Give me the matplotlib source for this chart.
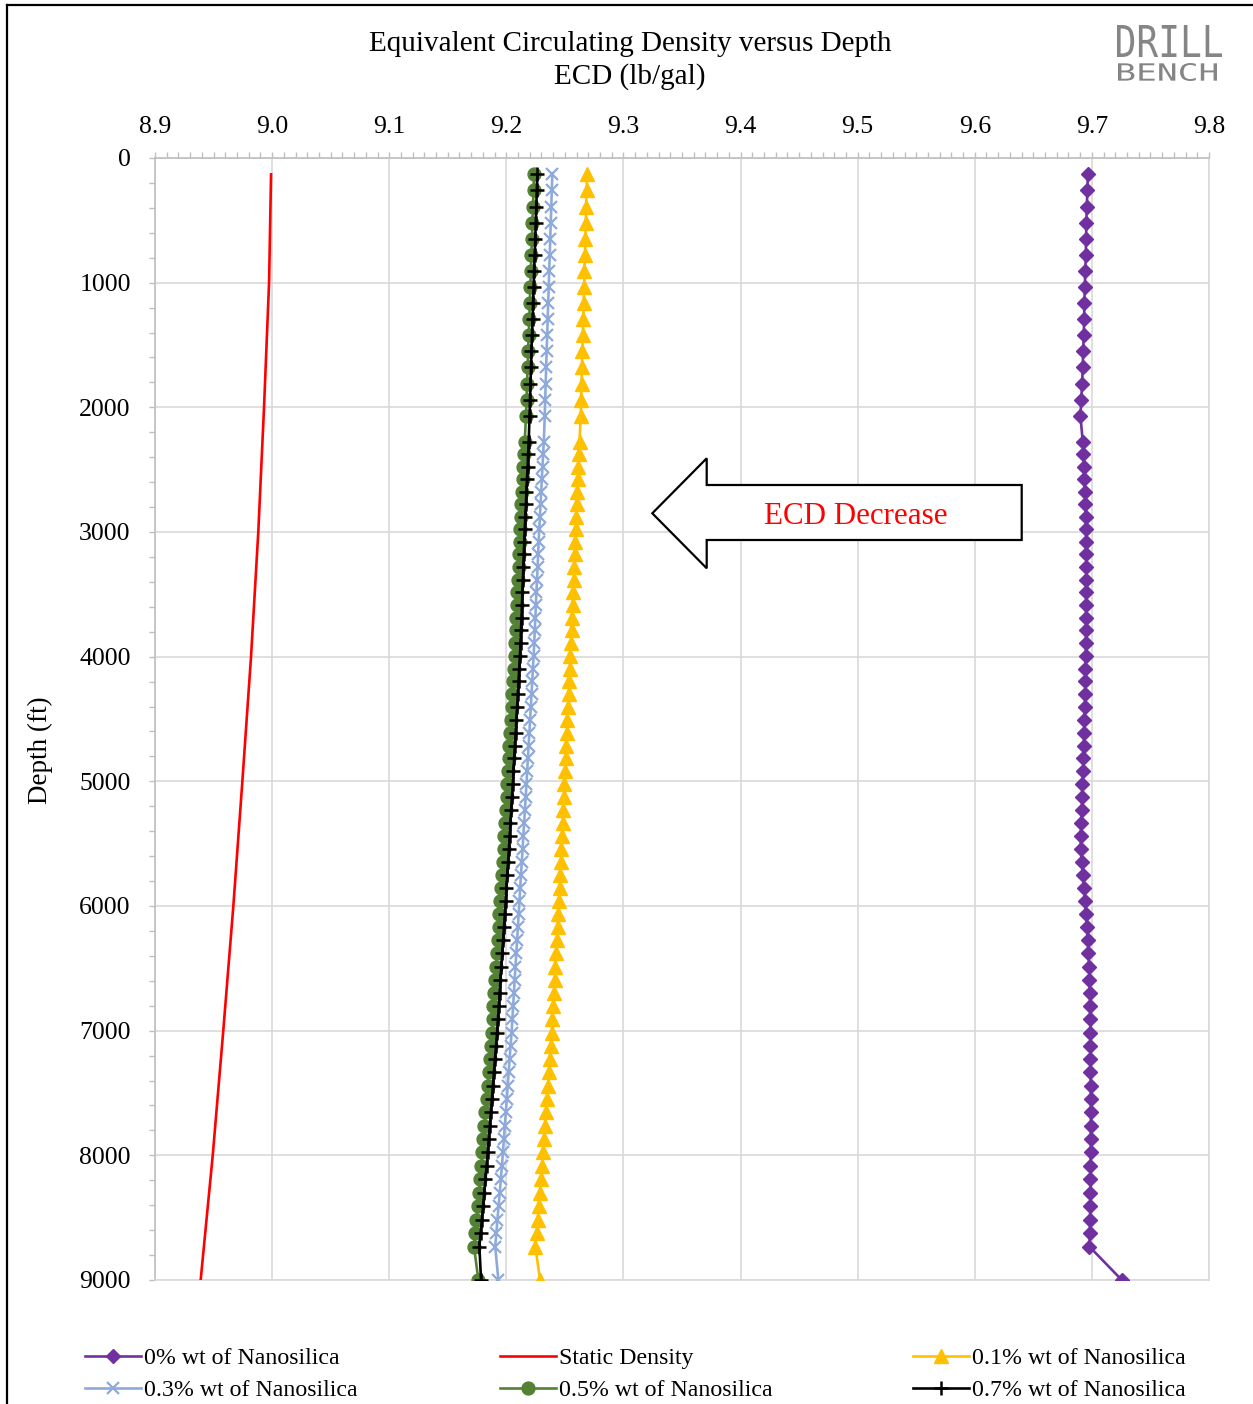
import numpy as np
import matplotlib
matplotlib.use('Agg')
import matplotlib.pyplot as plt
from matplotlib.ticker import MultipleLocator, FormatStrFormatter
from matplotlib.patches import Polygon, PathPatch
from matplotlib.textpath import TextPath
from matplotlib.font_manager import FontProperties
from matplotlib.path import Path

# ---------------- data ----------------
depth_ft = [131, 260, 390, 519, 648, 777, 906, 1035, 1164, 1293,
            1422, 1551, 1680, 1809, 1938, 2067,
            2275, 2375, 2475, 2575, 2676, 2776, 2877, 2978, 3079, 3180,
            3281, 3382, 3484, 3586, 3687, 3789, 3891, 3994, 4096, 4198,
            4301, 4404, 4506, 4609, 4713, 4816, 4919, 5023, 5126, 5230,
            5334, 5438, 5542, 5647, 5751, 5856, 5961, 6066, 6171, 6276,
            6381, 6487, 6592, 6698, 6804, 6910, 7016, 7122, 7228, 7335,
            7441, 7548, 7655, 7762, 7869, 7977, 8084, 8192, 8299, 8407,
            8515, 8623, 8732,
            9000]

ecd_0pct = [9.6965, 9.6962, 9.6956, 9.6953, 9.6950, 9.6948, 9.6944, 9.6939, 9.6936, 9.6933,
            9.6931, 9.6925, 9.6922, 9.6916, 9.6910, 9.6902,
            9.6922, 9.6928, 9.6933, 9.6936, 9.6939, 9.6945, 9.6948, 9.6950, 9.6950, 9.6953,
            9.6953, 9.6950, 9.6950, 9.6950, 9.6950, 9.6950, 9.6948, 9.6948, 9.6945, 9.6945,
            9.6942, 9.6939, 9.6936, 9.6933, 9.6931, 9.6928, 9.6925, 9.6919, 9.6916, 9.6914,
            9.6908, 9.6905, 9.6905, 9.6912, 9.6922, 9.6932, 9.6942, 9.6950, 9.6958, 9.6965,
            9.6971, 9.6976, 9.6979, 9.6982, 9.6985, 9.6985, 9.6988, 9.6988, 9.6988, 9.6988,
            9.6991, 9.6991, 9.6991, 9.6991, 9.6991, 9.6991, 9.6988, 9.6988, 9.6988, 9.6985,
            9.6985, 9.6982, 9.6979,
            9.7255]

ecd_01pct = [9.2689, 9.2685, 9.2682, 9.2678, 9.2675, 9.2671, 9.2667, 9.2664, 9.2660, 9.2657,
             9.2653, 9.2649, 9.2646, 9.2642, 9.2639, 9.2635,
             9.2625, 9.2620, 9.2616, 9.2611, 9.2607, 9.2602, 9.2598, 9.2593, 9.2589, 9.2584,
             9.2580, 9.2575, 9.2570, 9.2566, 9.2561, 9.2557, 9.2552, 9.2547, 9.2542, 9.2537,
             9.2532, 9.2526, 9.2521, 9.2516, 9.2511, 9.2506, 9.2501, 9.2496, 9.2491, 9.2485,
             9.2480, 9.2475, 9.2470, 9.2465, 9.2459, 9.2454, 9.2449, 9.2443, 9.2437, 9.2431,
             9.2425, 9.2419, 9.2413, 9.2407, 9.2400, 9.2394, 9.2388, 9.2380, 9.2372, 9.2364,
             9.2356, 9.2348, 9.2340, 9.2332, 9.2324, 9.2316, 9.2306, 9.2296, 9.2287, 9.2277,
             9.2267, 9.2258, 9.2248,
             9.2288]

ecd_03pct = [9.2393, 9.2388, 9.2384, 9.2379, 9.2375, 9.2371, 9.2366, 9.2362, 9.2357, 9.2353,
             9.2349, 9.2344, 9.2340, 9.2336, 9.2332, 9.2328,
             9.2320, 9.2314, 9.2309, 9.2303, 9.2298, 9.2292, 9.2287, 9.2281, 9.2276, 9.2271,
             9.2267, 9.2262, 9.2257, 9.2252, 9.2248, 9.2243, 9.2238, 9.2233, 9.2227, 9.2221,
             9.2215, 9.2209, 9.2203, 9.2197, 9.2190, 9.2184, 9.2178, 9.2172, 9.2165, 9.2159,
             9.2152, 9.2145, 9.2139, 9.2132, 9.2125, 9.2118, 9.2112, 9.2105, 9.2099, 9.2092,
             9.2085, 9.2078, 9.2071, 9.2065, 9.2058, 9.2051, 9.2045, 9.2036, 9.2028, 9.2020,
             9.2012, 9.2004, 9.1996, 9.1987, 9.1979, 9.1971, 9.1962, 9.1953, 9.1944, 9.1934,
             9.1924, 9.1915, 9.1905,
             9.1932]

ecd_05pct = [9.2237, 9.2232, 9.2228, 9.2223, 9.2219, 9.2214, 9.2209, 9.2205, 9.2200, 9.2196,
             9.2191, 9.2186, 9.2182, 9.2177, 9.2173, 9.2168,
             9.2157, 9.2151, 9.2146, 9.2140, 9.2135, 9.2129, 9.2124, 9.2118, 9.2113, 9.2108,
             9.2104, 9.2099, 9.2094, 9.2089, 9.2085, 9.2080, 9.2075, 9.2070, 9.2064, 9.2058,
             9.2052, 9.2046, 9.2040, 9.2034, 9.2027, 9.2021, 9.2015, 9.2009, 9.2002, 9.1996,
             9.1989, 9.1982, 9.1976, 9.1969, 9.1962, 9.1955, 9.1949, 9.1941, 9.1934, 9.1927,
             9.1919, 9.1912, 9.1904, 9.1897, 9.1890, 9.1882, 9.1875, 9.1866, 9.1857, 9.1848,
             9.1840, 9.1831, 9.1822, 9.1813, 9.1804, 9.1795, 9.1786, 9.1776, 9.1766, 9.1756,
             9.1745, 9.1735, 9.1724,
             9.1761]

ecd_07pct = [9.2265, 9.2260, 9.2256, 9.2251, 9.2247, 9.2242, 9.2237, 9.2233, 9.2228, 9.2224,
             9.2219, 9.2214, 9.2211, 9.2206, 9.2202, 9.2198,
             9.2191, 9.2186, 9.2182, 9.2176, 9.2172, 9.2167, 9.2163, 9.2157, 9.2153, 9.2149,
             9.2146, 9.2141, 9.2137, 9.2133, 9.2130, 9.2125, 9.2121, 9.2116, 9.2110, 9.2104,
             9.2098, 9.2092, 9.2086, 9.2080, 9.2073, 9.2067, 9.2061, 9.2055, 9.2048, 9.2042,
             9.2035, 9.2028, 9.2022, 9.2015, 9.2008, 9.2001, 9.1995, 9.1987, 9.1980, 9.1973,
             9.1965, 9.1958, 9.1950, 9.1943, 9.1936, 9.1928, 9.1921, 9.1912, 9.1903, 9.1894,
             9.1886, 9.1877, 9.1868, 9.1859, 9.1850, 9.1841, 9.1832, 9.1822, 9.1812, 9.1802,
             9.1791, 9.1781, 9.1770,
             9.1784]

static_depth_ft = [131, 1000, 2000, 3000, 4000, 5000, 6000, 7000, 8000, 9000]
static_density = [8.9991, 8.9974, 8.9931, 8.9882, 8.9820, 8.9746, 8.9669, 8.9583, 8.9493, 8.9390]

labels = ['0% wt of Nanosilica', 'Static Density', '0.1% wt of Nanosilica',
          '0.3% wt of Nanosilica', '0.5% wt of Nanosilica', '0.7% wt of Nanosilica']
x_ticks = [8.9, 9.0, 9.1, 9.2, 9.3, 9.4, 9.5, 9.6, 9.7, 9.8]
y_ticks = [0, 1000, 2000, 3000, 4000, 5000, 6000, 7000, 8000, 9000]

# ---------------- figure ----------------
plt.rcParams['font.family'] = ['Liberation Serif', 'DejaVu Serif']

W, H = 1253, 1404
fig = plt.figure(figsize=(W / 100, H / 100), dpi=100)
ax = fig.add_axes([155 / W, 1 - 1280 / H, (1209 - 155) / W, (1280 - 158) / H])

lw = 1.9
h0, = ax.plot(ecd_0pct, depth_ft, color='#7030A0', lw=lw, marker='D', ms=7.2,
              label=labels[0], zorder=3)
h1, = ax.plot(static_density, static_depth_ft, color='#FF0000', lw=lw,
              label=labels[1], zorder=3)
h2, = ax.plot(ecd_01pct, depth_ft, color='#FFC000', lw=lw, marker='^', ms=9.5,
              label=labels[2], zorder=3)
h3, = ax.plot(ecd_03pct, depth_ft, color='#8EA9DB', lw=lw, marker='x', ms=8.5, mew=1.6,
              label=labels[3], zorder=3)
h4, = ax.plot(ecd_05pct, depth_ft, color='#548235', lw=lw, marker='o', ms=9.3,
              label=labels[4], zorder=3)
h5, = ax.plot(ecd_07pct, depth_ft, color='#000000', lw=lw, marker='+', ms=9.5, mew=1.8,
              label=labels[5], zorder=3)

ax.set_xlim(8.9, 9.8)
ax.set_ylim(9000, 0)
ax.set_xticks(x_ticks)
ax.set_yticks(y_ticks)
ax.xaxis.set_minor_locator(MultipleLocator(0.01))
ax.yaxis.set_minor_locator(MultipleLocator(200))
ax.xaxis.set_major_formatter(FormatStrFormatter('%.1f'))
ax.xaxis.tick_top()
ax.tick_params(axis='x', which='both', top=True, bottom=False, labeltop=True,
               labelbottom=False, direction='out', length=4.5, width=1.0,
               color='#bfbfbf', labelsize=18.5, pad=10)
ax.tick_params(axis='y', which='both', left=True, right=False, direction='out',
               length=4.5, width=1.0, color='#bfbfbf', labelsize=18.5, pad=13)
ax.grid(True, which='major', color='#d9d9d9', lw=1.2, zorder=0)
ax.set_axisbelow(True)
for s in ['top', 'left']:
    ax.spines[s].set_color('#bfbfbf')
    ax.spines[s].set_linewidth(1.2)
for s in ['right', 'bottom']:
    ax.spines[s].set_color('#d9d9d9')
    ax.spines[s].set_linewidth(1.2)

# ---------------- overlay in pixel coords ----------------
ov = fig.add_axes([0, 0, 1, 1], zorder=5)
ov.set_xlim(0, W)
ov.set_ylim(H, 0)
ov.axis('off')
ov.patch.set_alpha(0)

# border
ov.plot([7, 7], [H + 5, 5], color='black', lw=1.6, solid_capstyle='projecting')
ov.plot([7, W + 5], [5, 5], color='black', lw=1.6, solid_capstyle='projecting')

# titles
ov.text(630, 44, 'Equivalent Circulating Density versus Depth', ha='center', va='center',
        fontsize=21)
ov.text(630, 77, 'ECD (lb/gal)', ha='center', va='center', fontsize=21)
ov.text(40, 750, 'Depth (ft)', ha='center', va='center', rotation=90, fontsize=19.5)

# arrow
arrow_pts = [(652.3, 513.3), (706.7, 458.3), (706.7, 485), (1021.7, 485),
             (1021.7, 540), (706.7, 540), (706.7, 568.3)]
ov.add_patch(Polygon(arrow_pts, closed=True, fc='white', ec='black', lw=1.6,
                     joinstyle='miter'))
ov.text(856, 516, 'ECD Decrease', color='#FF0000', ha='center', va='center', fontsize=22.3)

# logo
def fitted_text(s, x0, x1, y0, y1, color):
    tp = TextPath((0, 0), s, size=10, prop=FontProperties(family='DejaVu Sans Mono'))
    v = tp.vertices
    ext = tp.get_extents()
    sx = (x1 - x0) / ext.width
    sy = (y1 - y0) / ext.height
    nv = np.column_stack([x0 + (v[:, 0] - ext.x0) * sx, y1 - (v[:, 1] - ext.y0) * sy])
    ov.add_patch(PathPatch(Path(nv, tp.codes), fc=color, ec='none'))

fitted_text('DRILL', 1117, 1222, 25, 57, '#858585')
fitted_text('BENCH', 1118, 1217, 63, 81, '#858585')

# legend (three columns)
cols = [([h0, h3], [labels[0], labels[3]], 85),
        ([h1, h4], [labels[1], labels[4]], 500),
        ([h2, h5], [labels[2], labels[5]], 913)]
for hs, ls, xpix in cols:
    fig.legend(hs, ls, loc='center left', bbox_to_anchor=(xpix / W, 1 - 1374.5 / H),
               frameon=False, fontsize=17.2, borderpad=0, borderaxespad=0,
               handlelength=2.35, handletextpad=0.1, labelspacing=0.42, numpoints=1)

fig.savefig('out.png', dpi=100)
